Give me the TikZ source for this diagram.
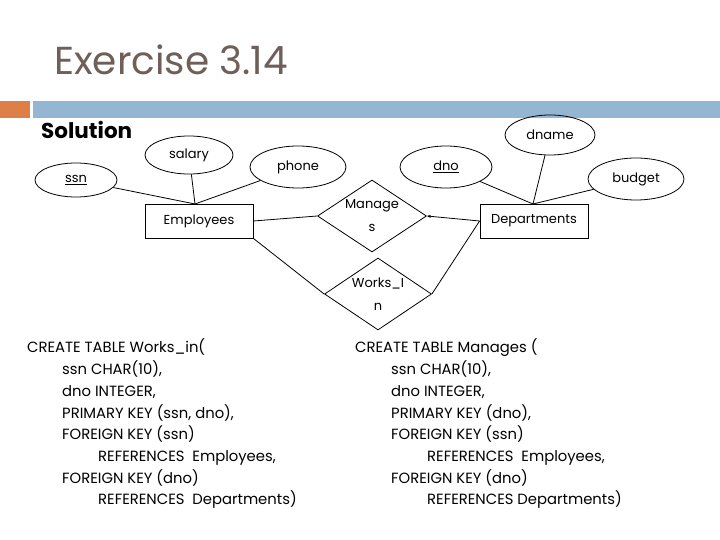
\documentclass[tikz,border=0pt]{standalone}
\usepackage{fontspec}
\setmainfont{Poppins}
\usetikzlibrary{shapes.geometric,arrows.meta}
\definecolor{titlegray}{HTML}{6E5F58}
\definecolor{barorange}{HTML}{DD8047}
\definecolor{barblue}{HTML}{94B6D2}
\begin{document}
\begin{tikzpicture}[x=1pt,y=-1pt,
  attr/.style={ellipse,draw,line width=0.8pt,inner sep=0pt,font=\fontsize{13}{15}\selectfont},
  ent/.style={rectangle,draw,line width=0.8pt,minimum width=108pt,minimum height=34pt,inner sep=0pt,font=\fontsize{13}{15}\selectfont},
  rel/.style={diamond,aspect=1.52,draw,line width=0.8pt,inner sep=0pt,align=center,font=\fontsize{13}{23}\selectfont},
  conn/.style={line width=0.8pt},
  sql/.style={anchor=base west,inner sep=0pt,font=\fontsize{14.8}{18}\selectfont}]
\useasboundingbox (0,0) rectangle (720,540);
% title and bars
\node[anchor=base west,inner sep=0pt,text=titlegray,font=\fontsize{39}{46}\selectfont] (title) at (54,75) {Exercise 3.14};
\fill[barorange] (0,101) rectangle (30,118);
\fill[barblue] (33,101) rectangle (720,118);
\node[anchor=base west,inner sep=0pt,font=\fontsize{21.5}{24}\selectfont\bfseries] (sol) at (41,139) {Solution};
% attributes
\node[attr,minimum width=82pt,minimum height=34pt] (ssn) at (76,180) {\underline{ssn}};
\node[attr,minimum width=88pt,minimum height=38pt] (salary) at (189,155) {salary};
\node[attr,minimum width=96pt,minimum height=42pt] (phone) at (298,167) {phone};
\node[attr,minimum width=92pt,minimum height=42pt] (dno) at (446,167) {\underline{dno}};
\node[attr,minimum width=90pt,minimum height=40pt] (dname) at (550,135) {dname};
\node[attr,minimum width=96pt,minimum height=42pt] (budget) at (636,179) {budget};
% entities
\node[ent] (emp) at (199,221) {Employees};
\node[ent] (dep) at (534,221) {Departments};
% relationships
\node[rel,minimum width=109pt,minimum height=72pt] (man) at (372,216) {Manage\\s};
\node[rel,minimum width=107pt,minimum height=72pt] (works) at (378,294) {Works\_I\\n};
% connectors
\coordinate (etop) at (195,204);
\coordinate (dtop) at (533,204);
\draw[conn] (ssn) -- (etop);
\draw[conn] (salary) -- (etop);
\draw[conn] (phone) -- (etop);
\draw[conn] (dno) -- (dtop);
\draw[conn] (dname) -- (dtop);
\draw[conn] (budget) -- (dtop);
\draw[conn] (emp.east) -- (man.west);
\draw[conn,-{Stealth[length=4pt,width=3pt]}] (dep.west) -- (man.east);
\draw[conn] (emp.south east) -- (works.west);
\draw[conn] (dep.west) -- (works.east);
% SQL left
\node[sql] (l1) at (27,352) {CREATE TABLE Works\_in(};
\node[sql] (l2) at (62,374) {ssn CHAR(10),};
\node[sql] (l3) at (62,396) {dno INTEGER,};
\node[sql] (l4) at (62,418) {PRIMARY KEY (ssn, dno),};
\node[sql] (l5) at (62,439) {FOREIGN KEY (ssn)};
\node[sql] (l6) at (98,461) {REFERENCES\ \ Employees,};
\node[sql] (l7) at (62,483) {FOREIGN KEY (dno)};
\node[sql] (l8) at (98,504) {REFERENCES\ \ Departments)};
% SQL right
\node[sql] (r1) at (355,352) {CREATE TABLE Manages (};
\node[sql] (r2) at (391,374) {ssn CHAR(10),};
\node[sql] (r3) at (391,396) {dno INTEGER,};
\node[sql] (r4) at (391,418) {PRIMARY KEY (dno),};
\node[sql] (r5) at (391,439) {FOREIGN KEY (ssn)};
\node[sql] (r6) at (427,461) {REFERENCES\ \ Employees,};
\node[sql] (r7) at (391,483) {FOREIGN KEY (dno)};
\node[sql] (r8) at (427,504) {REFERENCES Departments)};
\end{tikzpicture}
\end{document}
